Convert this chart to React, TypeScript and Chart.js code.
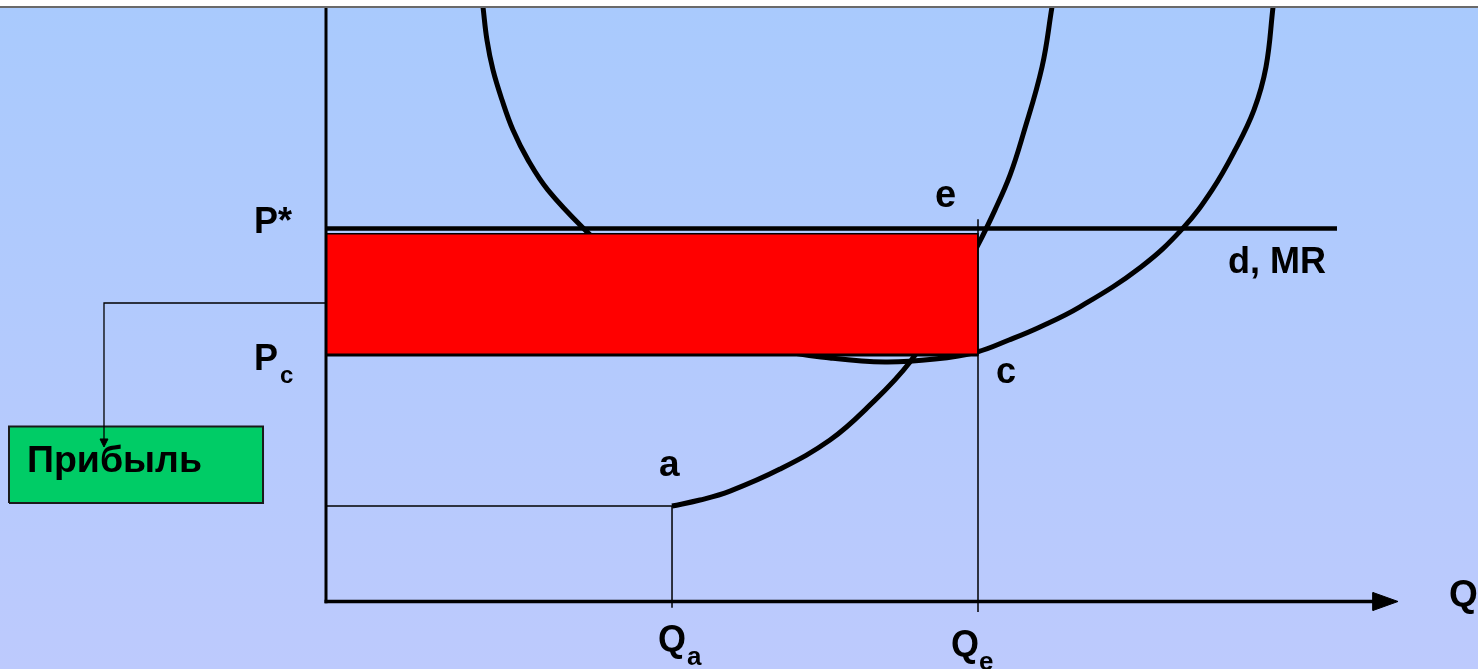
import React, { useEffect, useRef } from "react";
import { Chart, registerables } from "chart.js";

Chart.register(...registerables);

const W = 1478;
const H = 669;

// Average total cost curve (U-shaped)
const ATC_Q = [2.408, 2.469, 2.561, 2.699, 2.868, 3.098, 3.405, 4.003, 4.969, 6.043, 6.963, 7.73, 8.574, 9.34, 9.985, 10.475, 10.951, 11.564, 12.5, 13.144, 13.589, 13.942, 14.233, 14.417, 14.525];
const ATC_P = [15.94, 15.05, 14.25, 13.45, 12.64, 11.84, 11.03, 9.91, 8.3, 7.28, 6.74, 6.53, 6.42, 6.5, 6.69, 7.01, 7.36, 7.9, 8.97, 10.01, 11.03, 12.1, 13.18, 14.33, 15.94];

// Marginal cost curve (starts at point a)
const MC_Q = [5.307, 5.736, 6.196, 6.963, 7.73, 8.298, 8.957, 9.494, 10.0, 10.261, 10.491, 10.69, 10.982, 11.135];
const MC_P = [2.56, 2.72, 2.96, 3.55, 4.33, 5.19, 6.42, 7.92, 9.56, 10.5, 11.43, 12.51, 14.33, 15.94];

// Key quantities and prices
const Q_A = 5.307;
const Q_E = 10.0;
const P_STAR = 10.0;
const P_C = 6.61;
const P_A = 2.56;
const PROFIT_TOP = 9.86;
const D_LINE_END = 15.506;

// Axis extents
const Q_AXIS_END = 16.442;
const ARROW_BACK = 16.058;
const ARROW_HALF = 0.241;
const P_AXIS_TOP = 16.5;

// "Прибыль" callout box (in chart units)
const BOX_Q = [-4.862, -0.966];
const BOX_P = [2.641, 4.692];
const CALLOUT_P = 8.003;
const CALLOUT_Q = -3.405;
const CALLOUT_TIP_P = 4.142;

type Label = { text: string; q: number; p: number; size: number };
const LABELS: Label[] = [
  { text: "P*", q: -1.074, p: 9.879, size: 36 },
  { text: "P", q: -1.074, p: 6.206, size: 36 },
  { text: "c", q: -0.706, p: 5.858, size: 24 },
  { text: "e", q: 9.356, p: 10.576, size: 38 },
  { text: "c", q: 10.291, p: 5.858, size: 36 },
  { text: "a", q: 5.123, p: 3.365, size: 37 },
  { text: "d, MR", q: 13.85, p: 8.807, size: 36 },
  { text: "Прибыль", q: -4.555, p: 3.472, size: 37.5 },
  { text: "Q", q: 5.107, p: -1.327, size: 36 },
  { text: "a", q: 5.537, p: -1.702, size: 26 },
  { text: "Q", q: 9.601, p: -1.461, size: 36 },
  { text: "e", q: 10.031, p: -1.836, size: 26 },
  { text: "Q", q: 17.239, p: -0.134, size: 37 },
];

const zip = (qs: number[], ps: number[]) => qs.map((q, i) => ({ x: q, y: ps[i] }));

const bgPlugin = {
  id: "bg",
  beforeDraw(chart: any) {
    const { ctx } = chart;
    ctx.save();
    ctx.fillStyle = "#ffffff";
    ctx.fillRect(0, 0, chart.width, chart.height);
    const g = ctx.createLinearGradient(0, 8, 0, chart.height);
    g.addColorStop(0, "#A9CAFD");
    g.addColorStop(1, "#BDCAFD");
    ctx.fillStyle = g;
    ctx.fillRect(0, 8, chart.width, chart.height - 8);
    ctx.restore();
  },
};

const labelPlugin = {
  id: "labels",
  afterDatasetsDraw(chart: any) {
    const { ctx } = chart;
    const xs = chart.scales.x;
    const ys = chart.scales.y;
    ctx.save();
    ctx.fillStyle = "#ffffff";
    ctx.fillRect(0, 0, chart.width, 6);
    ctx.strokeStyle = "#6a6a6a";
    ctx.lineWidth = 2;
    ctx.beginPath();
    ctx.moveTo(0, 7);
    ctx.lineTo(chart.width, 7);
    ctx.stroke();
    ctx.fillStyle = "#000000";
    ctx.textAlign = "left";
    ctx.textBaseline = "alphabetic";
    for (const l of LABELS) {
      ctx.font = `bold ${l.size}px "Liberation Sans", Arial, sans-serif`;
      const m = ctx.measureText(l.text);
      const px = xs.getPixelForValue(l.q);
      const py = ys.getPixelForValue(l.p);
      ctx.fillText(l.text, px + m.actualBoundingBoxLeft, py);
    }
    ctx.restore();
  },
};

const base = { borderColor: "#000000", pointRadius: 0, fill: false, tension: 0 };

export default function App() {
  const ref = useRef<HTMLCanvasElement>(null);
  useEffect(() => {
    const datasets: any[] = [
      { ...base, data: zip(ATC_Q, ATC_P), borderWidth: 5, tension: 0.4, order: 9 },
      { ...base, data: zip(MC_Q, MC_P), borderWidth: 5, tension: 0.4, order: 9 },
      {
        ...base,
        data: [
          { x: 0, y: P_C },
          { x: Q_E, y: P_C },
          { x: Q_E, y: PROFIT_TOP },
          { x: 0, y: PROFIT_TOP },
          { x: 0, y: P_C },
        ],
        fill: "shape",
        backgroundColor: "#FF0000",
        borderWidth: 1.5,
        order: 8,
      },
      { ...base, data: [{ x: 0, y: P_STAR }, { x: D_LINE_END, y: P_STAR }], borderWidth: 4.5, order: 7 },
      { ...base, data: [{ x: 0, y: P_C }, { x: Q_E, y: P_C }], borderWidth: 3, order: 7 },
      {
        ...base,
        data: [
          { x: BOX_Q[0], y: BOX_P[0] },
          { x: BOX_Q[1], y: BOX_P[0] },
          { x: BOX_Q[1], y: BOX_P[1] },
          { x: BOX_Q[0], y: BOX_P[1] },
          { x: BOX_Q[0], y: BOX_P[0] },
        ],
        fill: "shape",
        backgroundColor: "#00CC66",
        borderColor: "#1a1a1a",
        borderWidth: 2,
        order: 7,
      },
      { ...base, data: [{ x: Q_E, y: 10.25 }, { x: Q_E, y: -0.28 }], borderWidth: 1.5, order: 6 },
      { ...base, data: [{ x: Q_A, y: P_A }, { x: Q_A, y: -0.17 }], borderWidth: 1.5, order: 6 },
      { ...base, data: [{ x: 0, y: P_A }, { x: Q_A, y: P_A }], borderWidth: 1.5, order: 6 },
      {
        ...base,
        data: [
          { x: 0, y: CALLOUT_P },
          { x: CALLOUT_Q, y: CALLOUT_P },
          { x: CALLOUT_Q, y: CALLOUT_TIP_P + 0.1 },
        ],
        borderWidth: 1.3,
        order: 6,
      },
      {
        ...base,
        data: [
          { x: CALLOUT_Q, y: CALLOUT_TIP_P },
          { x: CALLOUT_Q - 0.061, y: CALLOUT_TIP_P + 0.215 },
          { x: CALLOUT_Q + 0.061, y: CALLOUT_TIP_P + 0.215 },
          { x: CALLOUT_Q, y: CALLOUT_TIP_P },
        ],
        fill: "shape",
        backgroundColor: "#000000",
        borderWidth: 1,
        order: 6,
      },
      { ...base, data: [{ x: 0, y: -0.05 }, { x: 0, y: P_AXIS_TOP }], borderWidth: 3, order: 4 },
      { ...base, data: [{ x: -0.023, y: 0 }, { x: ARROW_BACK + 0.05, y: 0 }], borderWidth: 3.5, order: 4 },
      {
        ...base,
        data: [
          { x: Q_AXIS_END, y: 0 },
          { x: ARROW_BACK, y: ARROW_HALF },
          { x: ARROW_BACK, y: -ARROW_HALF },
          { x: Q_AXIS_END, y: 0 },
        ],
        fill: "shape",
        backgroundColor: "#000000",
        borderWidth: 1,
        order: 4,
      },
    ];

    const chart = new Chart(ref.current as HTMLCanvasElement, {
      type: "line",
      data: { datasets },
      options: {
        animation: false,
        responsive: false,
        maintainAspectRatio: false,
        devicePixelRatio: 1,
        events: [],
        layout: { padding: 0 },
        plugins: { legend: { display: false }, tooltip: { enabled: false }, title: { display: false } },
        scales: {
          x: { type: "linear", display: false, min: -5, max: 17.6687 },
          y: { type: "linear", display: false, min: -1.8097, max: 16.126 },
        },
      },
      plugins: [bgPlugin, labelPlugin],
    } as any);
    return () => chart.destroy();
  }, []);

  return (
    <div style={{ position: "fixed", left: 0, top: 0, width: W, height: H, overflow: "hidden" }}>
      <canvas ref={ref} width={W} height={H} style={{ display: "block", width: W, height: H }} />
    </div>
  );
}
